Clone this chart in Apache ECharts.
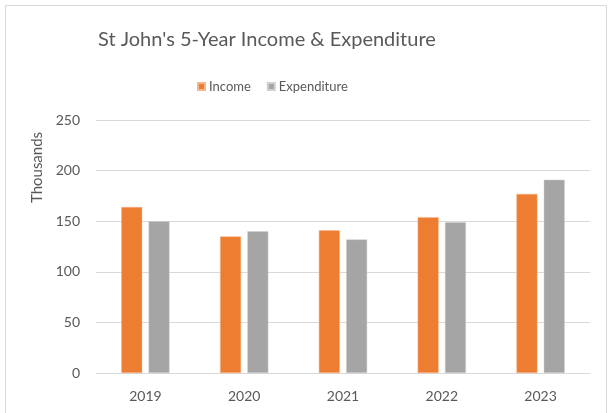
<!DOCTYPE html>
<html>
<head>
<meta charset="utf-8">
<script src="https://cdn.jsdelivr.net/npm/echarts@6/dist/echarts.min.js"></script>
<style>
  html, body { margin: 0; padding: 0; background: #fff; }
  #chart { width: 611px; height: 413px; }
</style>
</head>
<body>
<div id="chart"></div>
<script>
// values in thousands
const years = ['2019', '2020', '2021', '2022', '2023'];
const income = [164, 135, 141, 154, 177];
const expenditure = [150, 140, 132, 149, 191];
const yTicks = { min: 0, max: 250, interval: 50 };

const textColor = '#595959';
const font = 'Lato, "Noto Sans", sans-serif';

const chart = echarts.init(document.getElementById('chart'));

const option = {
    animation: false,
    backgroundColor: '#fff',
    title: {
        text: "St John's 5-Year Income & Expenditure",
        left: 93,
        top: 25,
        textStyle: {
            color: textColor,
            fontFamily: font,
            fontSize: 20,
            fontWeight: 'normal'
        }
    },
    legend: {
        left: 192,
        top: 75,
        itemWidth: 7,
        itemHeight: 7,
        itemGap: 16,
        icon: 'rect',
        textStyle: { color: textColor, fontFamily: font, fontSize: 13, padding: [0, 0, 0, -1] }
    },
    grid: { left: 96, right: 21, top: 120, bottom: 40 },
    xAxis: {
        type: 'category',
        data: years,
        axisLine: { lineStyle: { color: '#d9d9d9', width: 1 } },
        axisTick: { show: false },
        axisLabel: { color: textColor, fontFamily: font, fontSize: 14, margin: 16 }
    },
    yAxis: {
        type: 'value',
        min: yTicks.min,
        max: yTicks.max,
        interval: yTicks.interval,
        name: 'Thousands',
        nameLocation: 'middle',
        nameGap: 49,
        nameTextStyle: { color: textColor, fontFamily: font, fontSize: 15, padding: [0, 0, 0, 158] },
        axisLine: { show: false },
        axisTick: { show: false },
        axisLabel: { color: textColor, fontFamily: font, fontSize: 14, margin: 16 },
        splitLine: { lineStyle: { color: '#d9d9d9', width: 1 } }
    },
    graphic: [
        {
            type: 'rect',
            shape: { x: 5.5, y: 5.5, width: 601, height: 420 },
            style: { fill: 'none', stroke: '#d9d9d9', lineWidth: 1 },
            silent: true
        }
    ],
    series: [
        {
            name: 'Income',
            type: 'bar',
            data: income,
            barWidth: 21,
            barGap: '30%',
            itemStyle: { color: '#ED7D31', borderColor: '#f6b68c', borderWidth: 0.5 }
        },
        {
            name: 'Expenditure',
            type: 'bar',
            data: expenditure,
            barWidth: 21,
            itemStyle: { color: '#A5A5A5', borderColor: '#d0d0d0', borderWidth: 0.5 }
        }
    ]
};

chart.setOption(option);
</script>
</body>
</html>
